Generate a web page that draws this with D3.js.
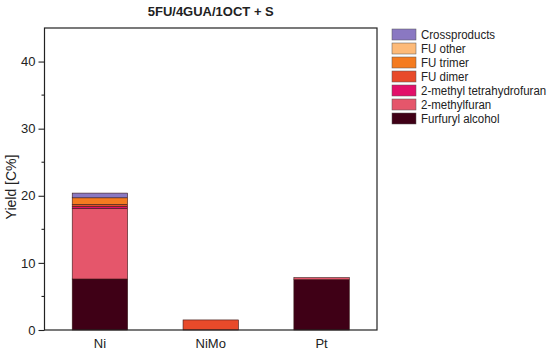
<!DOCTYPE html>
<html>
<head>
<meta charset="utf-8">
<script src="https://cdn.jsdelivr.net/npm/d3@7"></script>
<style>
  body { margin: 0; background: #fff; }
  svg text { font-family: "Liberation Sans", Arial, sans-serif; }
</style>
</head>
<body>
<svg id="chart" width="550" height="352"></svg>
<script>
const catalysts = ["Ni", "NiMo", "Pt"];
const seriesNames = ["Furfuryl alcohol", "2-methylfuran", "2-methyl tetrahydrofuran", "FU dimer", "FU trimer", "FU other", "Crossproducts"];
const seriesColors = ["#3f0016", "#e5566b", "#e2106a", "#e84a2a", "#f47b20", "#fdba78", "#8a78c2"];
// values per catalyst, in series order
const furfurylAlcohol = [7.6, 0.0, 7.5];
const methylfuran = [10.5, 0.0, 0.3];
const methylTHF = [0.3, 0.0, 0.0];
const fuDimer = [0.3, 1.5, 0.0];
const fuTrimer = [1.0, 0.0, 0.0];
const fuOther = [0.0, 0.0, 0.0];
const crossproducts = [0.7, 0.0, 0.0];
const yTicks = [0, 10, 20, 30, 40];
const yMinorTicks = [5, 15, 25, 35];

const values = [furfurylAlcohol, methylfuran, methylTHF, fuDimer, fuTrimer, fuOther, crossproducts];
const rows = catalysts.map((c, i) => {
  const r = { cat: c };
  seriesNames.forEach((s, j) => (r[s] = values[j][i]));
  return r;
});

const svg = d3.select("#chart");
const mLeft = 44.5, mRight = 377, mTop = 28, mBottom = 330;

const x = d3.scaleBand().domain(catalysts).range([mLeft, mRight]).paddingInner(0.5).paddingOuter(0.25);
const y = d3.scaleLinear().domain([0, 45]).range([mBottom, mTop]);

const stacked = d3.stack().keys(seriesNames)(rows);

svg.append("g")
  .selectAll("g")
  .data(stacked)
  .enter()
  .append("g")
  .attr("fill", (d, i) => seriesColors[i])
  .selectAll("rect")
  .data((d) => d.filter((p) => p[1] - p[0] > 0))
  .enter()
  .append("rect")
  .attr("x", (d) => x(d.data.cat))
  .attr("width", x.bandwidth())
  .attr("y", (d) => y(d[1]))
  .attr("height", (d) => y(d[0]) - y(d[1]))
  .attr("stroke", "#3a1a1a")
  .attr("stroke-width", 0.6);

// frame
svg.append("rect")
  .attr("x", mLeft).attr("y", mTop)
  .attr("width", mRight - mLeft).attr("height", mBottom - mTop)
  .attr("fill", "none").attr("stroke", "#222").attr("stroke-width", 1.2);

// y axis
const yAxis = svg.append("g")
  .attr("transform", `translate(${mLeft},0)`)
  .call(d3.axisLeft(y).tickValues(yTicks).tickSize(6).tickPadding(3));
yAxis.select(".domain").remove();
yAxis.selectAll("line").attr("stroke", "#222").attr("stroke-width", 1.1);
yAxis.selectAll("text").attr("font-size", 13).attr("fill", "#222").style("font-family", "'Liberation Sans', Arial, sans-serif");

svg.append("g")
  .selectAll("line")
  .data(yMinorTicks)
  .enter()
  .append("line")
  .attr("x1", mLeft - 3).attr("x2", mLeft)
  .attr("y1", (d) => y(d)).attr("y2", (d) => y(d))
  .attr("stroke", "#222").attr("stroke-width", 1.1);

// x labels
const xAxis = svg.append("g")
  .attr("transform", `translate(0,${mBottom})`)
  .call(d3.axisBottom(x).tickSize(0).tickPadding(9));
xAxis.select(".domain").remove();
xAxis.selectAll("text").attr("font-size", 13).attr("fill", "#222").style("font-family", "'Liberation Sans', Arial, sans-serif");

svg.append("text")
  .attr("transform", `translate(16,187) rotate(-90)`)
  .attr("text-anchor", "middle")
  .attr("font-size", 14)
  .attr("fill", "#222")
  .text("Yield [C%]");

svg.append("text")
  .attr("x", (mLeft + mRight) / 2)
  .attr("y", 16)
  .attr("text-anchor", "middle")
  .attr("font-size", 13)
  .attr("font-weight", "bold")
  .attr("fill", "#222")
  .text("5FU/4GUA/1OCT + S");

// legend, top entry is last series
const legendItems = seriesNames.map((s, i) => ({ name: s, color: seriesColors[i] })).reverse();
const legend = svg.append("g").attr("transform", "translate(392,29)");
const item = legend.selectAll("g")
  .data(legendItems)
  .enter()
  .append("g")
  .attr("transform", (d, i) => `translate(0,${i * 14})`);
item.append("rect")
  .attr("width", 24).attr("height", 11)
  .attr("fill", (d) => d.color)
  .attr("stroke", "#555").attr("stroke-width", 0.5);
item.append("text")
  .attr("transform", "translate(29,10) scale(0.92,1)")
  .attr("font-size", 12.5)
  .attr("fill", "#222")
  .text((d) => d.name);
</script>
</body>
</html>
